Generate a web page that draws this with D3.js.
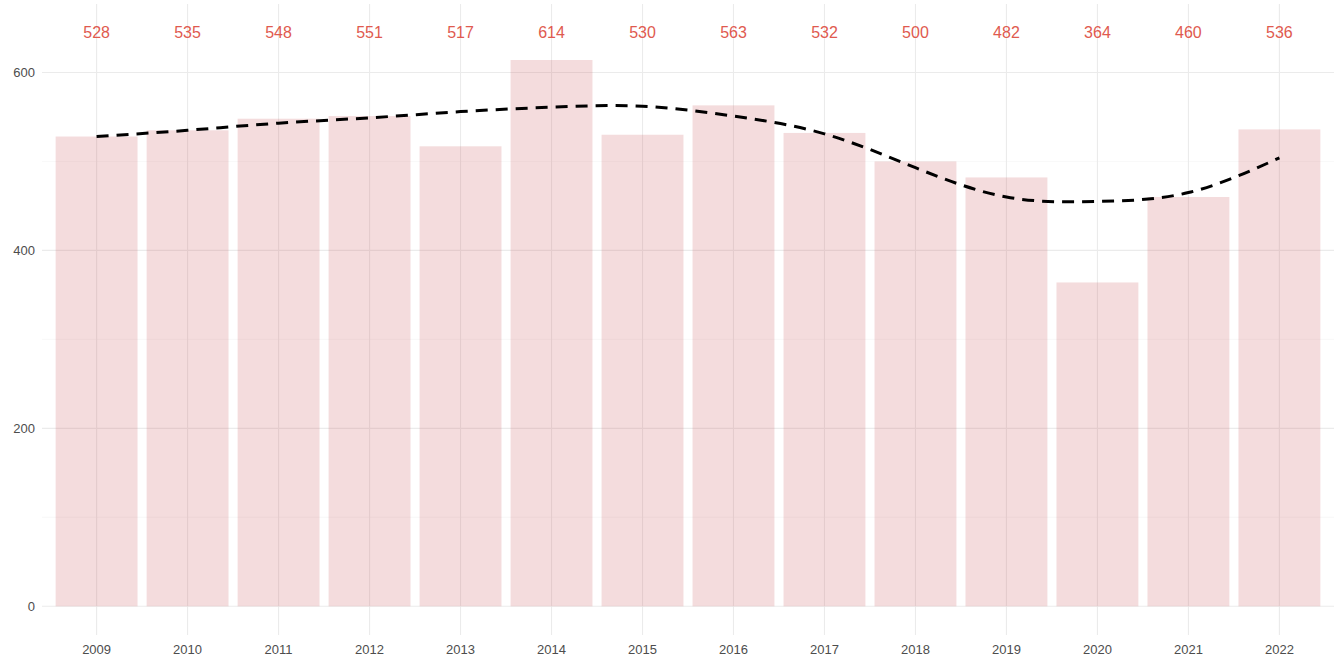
<!DOCTYPE html>
<html>
<head>
<meta charset="utf-8">
<script src="https://cdn.jsdelivr.net/npm/d3@7"></script>
<style>
  body { margin: 0; background: #fff; }
  text { font-family: "Liberation Sans", Arial, sans-serif; }
</style>
</head>
<body>
<script>
// data
var years = [2009, 2010, 2011, 2012, 2013, 2014, 2015, 2016, 2017, 2018, 2019, 2020, 2021, 2022];
var counts = [528, 535, 548, 551, 517, 614, 530, 563, 532, 500, 482, 364, 460, 536];
// smoothed trend (dashed line), estimated per year
var trend = [528, 535, 543, 549, 556, 561, 562, 551, 531, 493, 460, 455, 465, 504];
var yTicks = [0, 200, 400, 600];
var yMinor = [100, 300, 500];

var W = 1336, H = 658;
var margin = {top: 4, right: 2, bottom: 23, left: 42};
var width = W - margin.left - margin.right,
    height = H - margin.top - margin.bottom;

var svg = d3.select("body").append("svg")
    .attr("width", W)
    .attr("height", H)
  .append("g")
    .attr("transform", "translate(" + margin.left + "," + margin.top + ")");

// discrete axis like ggplot: 0.6 units of space on each side
var x = d3.scalePoint()
    .domain(years)
    .range([0, width])
    .padding(0.6);
var barW = x.step() * 0.9;

var yMax = d3.max(counts) * 1.05;
var y = d3.scaleLinear()
    .domain([-yMax * 0.05, yMax * 1.05])
    .range([height, 0]);

// grid
svg.selectAll(".minor")
    .data(yMinor)
    .enter().append("line")
    .attr("x1", 0).attr("x2", width)
    .attr("y1", function(d) { return y(d); })
    .attr("y2", function(d) { return y(d); })
    .style("stroke", "#f3f3f3")
    .style("stroke-width", 0.6);

svg.selectAll(".major")
    .data(yTicks)
    .enter().append("line")
    .attr("x1", 0).attr("x2", width)
    .attr("y1", function(d) { return y(d); })
    .attr("y2", function(d) { return y(d); })
    .style("stroke", "#ebebeb")
    .style("stroke-width", 1.1);

svg.selectAll(".vgrid")
    .data(years)
    .enter().append("line")
    .attr("x1", function(d) { return x(d); })
    .attr("x2", function(d) { return x(d); })
    .attr("y1", 0).attr("y2", height)
    .style("stroke", "#ebebeb")
    .style("stroke-width", 1.1);

// bars
svg.selectAll(".bar")
    .data(counts)
    .enter().append("rect")
    .attr("x", function(d, i) { return x(years[i]) - barW / 2; })
    .attr("width", barW)
    .attr("y", function(d) { return y(d); })
    .attr("height", function(d) { return y(0) - y(d); })
    .style("fill", "rgb(200,80,85)")
    .style("fill-opacity", 0.2);

// labels on top
svg.selectAll(".lab")
    .data(counts)
    .enter().append("text")
    .attr("x", function(d, i) { return x(years[i]); })
    .attr("y", y(yMax))
    .attr("dy", "0.36em")
    .attr("text-anchor", "middle")
    .style("font-size", "16px")
    .style("fill", "#e05a4f")
    .text(function(d) { return d; });

// trend line
var line = d3.line()
    .x(function(d, i) { return x(years[i]); })
    .y(function(d) { return y(d); })
    .curve(d3.curveNatural);

svg.append("path")
    .datum(trend)
    .attr("d", line)
    .style("fill", "none")
    .style("stroke", "#000")
    .style("stroke-width", 3)
    .style("stroke-dasharray", "12,8");

// axes text
svg.selectAll(".ylab")
    .data(yTicks)
    .enter().append("text")
    .attr("x", -7)
    .attr("y", function(d) { return y(d); })
    .attr("dy", "0.35em")
    .attr("text-anchor", "end")
    .style("font-size", "13px")
    .style("fill", "#4d4d4d")
    .text(function(d) { return d; });

svg.selectAll(".xlab")
    .data(years)
    .enter().append("text")
    .attr("x", function(d) { return x(d); })
    .attr("y", height + 14)
    .attr("dy", "0.35em")
    .attr("text-anchor", "middle")
    .style("font-size", "13px")
    .style("fill", "#4d4d4d")
    .text(function(d) { return d; });
</script>
</body>
</html>
